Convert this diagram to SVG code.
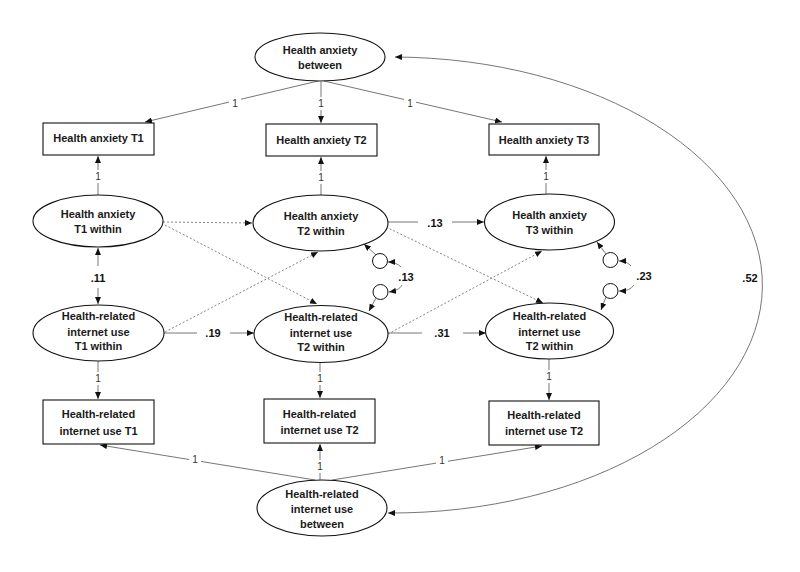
<svg xmlns="http://www.w3.org/2000/svg" width="800" height="572" viewBox="0 0 800 572">
<style>
.nd ellipse,.nd rect{fill:#fff;stroke:#111;stroke-width:1.1}
.nt{font-family:"Liberation Sans",Arial,sans-serif;font-weight:bold;font-size:11px;fill:#1a1a1a;text-anchor:middle}
.c{fill:none;stroke:#666;stroke-width:0.9}
.d{fill:none;stroke:#777;stroke-width:0.9;stroke-dasharray:2 2}
.a{marker-end:url(#ah)}
.l1{font-family:"Liberation Sans",Arial,sans-serif;font-size:10px;fill:#333;text-anchor:middle}
.lb{font-family:"Liberation Sans",Arial,sans-serif;font-weight:bold;font-size:11px;fill:#111;text-anchor:middle}
.bg{fill:#fff;stroke:none}
.sc{fill:#fff;stroke:#111;stroke-width:1}
</style>
<defs>
<marker id="ah" markerUnits="userSpaceOnUse" markerWidth="8" markerHeight="6" refX="7" refY="3" orient="auto-start-reverse"><path d="M0,0 L7,3 L0,6 z" fill="#111"/></marker>
</defs>
<rect width="800" height="572" fill="#fff"/>

<g id="connectors">
<path class="c a" d="M318,81 L145,122"/>
<path class="c a" d="M321,82 L321,123"/>
<path class="c a" d="M324,81 L502,122"/>
<path class="c a" d="M98,195 L98,156"/>
<path class="c a" d="M321,195 L321,157"/>
<path class="c a" d="M546,194 L546,156"/>
<path class="c a" d="M98,266 L98,248"/>
<path class="c a" d="M98,288 L98,304"/>
<path class="c" d="M388,222 L418,222"/>
<path class="c a" d="M452,222 L484,222"/>
<path class="c" d="M164,333 L197,333"/>
<path class="c a" d="M230,333 L254,333"/>
<path class="c" d="M388,333 L422,333"/>
<path class="c a" d="M463,333 L486,333"/>
<path class="d a" d="M163,222 L252,223"/>
<path class="d a" d="M165,225 L317,304"/>
<path class="d a" d="M165,332 L318,252"/>
<path class="d a" d="M386,227 L543,303"/>
<path class="d a" d="M388,334 L542,251"/>
<path class="c a" d="M376,255 L364,244"/>
<path class="c a" d="M376,298 L369,311"/>
<path class="c a" d="M606,254 L597,242"/>
<path class="c a" d="M606,297 L601,310"/>
<path class="c a" d="M401,267 C398,264 394,262 388,262"/>
<path class="c a" d="M402,285 C400,289 395,291 389,292"/>
<path class="c a" d="M631,266 C628,263 625,261 619,261"/>
<path class="c a" d="M634,285 C631,289 627,291 619,291"/>
<path class="c a" d="M98,361 L98,399"/>
<path class="c a" d="M320,363 L320,398"/>
<path class="c a" d="M549,359 L549,400"/>
<path class="c a" d="M315,480 L100,445"/>
<path class="c a" d="M320,480 L320,444"/>
<path class="c a" d="M332,480 L542,446"/>
<path class="c" d="M395,57 A371,228 0 0 1 388,513" marker-start="url(#ah)" marker-end="url(#ah)"/>
<rect class="bg" x="229" y="97" width="12" height="13"/>
<rect class="bg" x="317" y="97" width="8" height="13"/>
<rect class="bg" x="404" y="97" width="12" height="13"/>
<rect class="bg" x="94" y="170" width="8" height="13"/>
<rect class="bg" x="317" y="171" width="8" height="13"/>
<rect class="bg" x="542" y="170" width="8" height="13"/>
<rect class="bg" x="94" y="372" width="8" height="13"/>
<rect class="bg" x="316" y="372" width="8" height="13"/>
<rect class="bg" x="545" y="370" width="8" height="13"/>
<rect class="bg" x="189" y="453" width="12" height="13"/>
<rect class="bg" x="316" y="460" width="8" height="13"/>
<rect class="bg" x="436" y="454" width="12" height="13"/>
<rect class="bg" x="740" y="270" width="20" height="16"/>
<g opacity="0.99">
<text class="l1" x="235" y="107">1</text>
<text class="l1" x="321" y="107">1</text>
<text class="l1" x="410" y="107">1</text>
<text class="l1" x="98" y="180">1</text>
<text class="l1" x="321" y="181">1</text>
<text class="l1" x="546" y="180">1</text>
<text class="l1" x="98" y="382">1</text>
<text class="l1" x="320" y="382">1</text>
<text class="l1" x="549" y="380">1</text>
<text class="l1" x="195" y="463">1</text>
<text class="l1" x="320" y="470">1</text>
<text class="l1" x="442" y="464">1</text>
</g>
<text class="lb" x="98" y="282">.11</text>
<text class="lb" x="213" y="337">.19</text>
<text class="lb" x="435" y="227">.13</text>
<text class="lb" x="442" y="337">.31</text>
<text class="lb" x="406" y="281">.13</text>
<text class="lb" x="644" y="280">.23</text>
<text class="lb" x="750" y="282">.52</text>
</g>

<g id="ha-between" class="nd"><ellipse cx="320" cy="57" rx="65" ry="24"/><text class="nt" x="320" y="54">Health anxiety</text><text class="nt" x="320" y="69">between</text></g>
<g id="ha-t1" class="nd"><rect x="43" y="123" width="111" height="32"/><text class="nt" x="98.5" y="142">Health anxiety T1</text></g>
<g id="ha-t2" class="nd"><rect x="266" y="124" width="111" height="32"/><text class="nt" x="321.5" y="143.5">Health anxiety T2</text></g>
<g id="ha-t3" class="nd"><rect x="489" y="124" width="110" height="31"/><text class="nt" x="544" y="144">Health anxiety T3</text></g>
<g id="ha-t1-within" class="nd"><ellipse cx="98" cy="221" rx="65" ry="26"/><text class="nt" x="98" y="218">Health anxiety</text><text class="nt" x="98" y="233">T1 within</text></g>
<g id="ha-t2-within" class="nd"><ellipse cx="320.5" cy="223" rx="67.5" ry="28"/><text class="nt" x="321" y="220">Health anxiety</text><text class="nt" x="321" y="235">T2 within</text></g>
<g id="ha-t3-within" class="nd"><ellipse cx="549.5" cy="222" rx="65" ry="28"/><text class="nt" x="549.5" y="219">Health anxiety</text><text class="nt" x="549.5" y="234">T3 within</text></g>
<g id="res-1" class="nd"><circle class="sc" cx="380" cy="261" r="7.5"/></g>
<g id="res-2" class="nd"><circle class="sc" cx="380.5" cy="292" r="7.5"/></g>
<g id="res-3" class="nd"><circle class="sc" cx="610.5" cy="260" r="7.5"/></g>
<g id="res-4" class="nd"><circle class="sc" cx="610.5" cy="291" r="7.5"/></g>
<g id="hriu-t1-within" class="nd"><ellipse cx="98.5" cy="333" rx="65.5" ry="28"/><text class="nt" x="98.5" y="320">Health-related</text><text class="nt" x="98.5" y="335.5">internet use</text><text class="nt" x="98.5" y="350">T1 within</text></g>
<g id="hriu-t2-within" class="nd"><ellipse cx="321" cy="334" rx="67" ry="28.5"/><text class="nt" x="321" y="321">Health-related</text><text class="nt" x="321" y="337">internet use</text><text class="nt" x="321" y="351">T2 within</text></g>
<g id="hriu-t3-within" class="nd"><ellipse cx="549.5" cy="331" rx="64" ry="28"/><text class="nt" x="549.5" y="320">Health-related</text><text class="nt" x="549.5" y="336">internet use</text><text class="nt" x="549.5" y="349.5">T2 within</text></g>
<g id="hriu-t1" class="nd"><rect x="43" y="400" width="111" height="44"/><text class="nt" x="98.5" y="418">Health-related</text><text class="nt" x="98.5" y="435">internet use T1</text></g>
<g id="hriu-t2" class="nd"><rect x="264" y="399" width="111" height="44"/><text class="nt" x="319.5" y="418">Health-related</text><text class="nt" x="319.5" y="434">internet use T2</text></g>
<g id="hriu-t3" class="nd"><rect x="489" y="401" width="110" height="44"/><text class="nt" x="544" y="419">Health-related</text><text class="nt" x="544" y="435">internet use T2</text></g>
<g id="hriu-between" class="nd"><ellipse cx="322" cy="508" rx="65" ry="28"/><text class="nt" x="322" y="498">Health-related</text><text class="nt" x="322" y="513">internet use</text><text class="nt" x="322" y="528">between</text></g>
</svg>
